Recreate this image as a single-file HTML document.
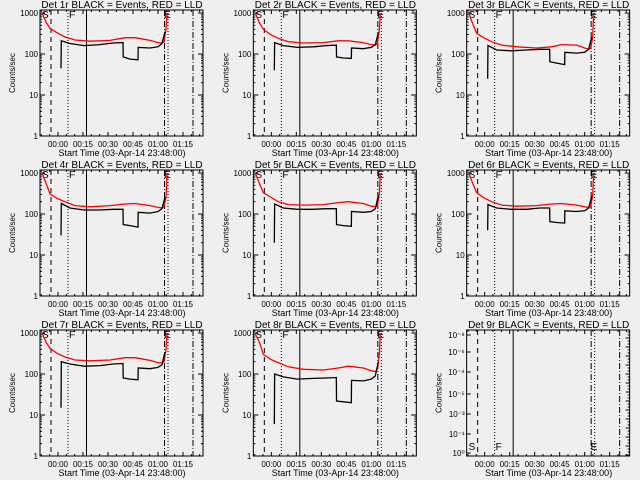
<!DOCTYPE html>
<html><head><meta charset="utf-8"><style>
html,body{margin:0;padding:0;background:#efefef;}
svg{display:block;font-family:"Liberation Sans",sans-serif;}
</style></head><body>
<svg id="chart" width="640" height="480" viewBox="0 0 640 480" xmlns="http://www.w3.org/2000/svg">
<rect width="640" height="480" fill="#efefef"/>
</svg>
<script>
// time in minutes relative to 00:00 (04-Apr-14)
const redTimes = [-9.6,-7.2,-4.8,-0.6,4.2,10.2,19.2,31.2,40.2,46.2,55.2,60,62.4,63.6,64.8,65.4];
const blackTimes = [1.8,2.0,7.2,15.6,25.2,33,39,39.1,43.2,48,48.1,55.2,60,62.4,64.2];
const detNames = ["1r","2r","3r","4r","5r","6r","7r","8r","9r"];
const red1 = [1000,600,420,330,260,220,205,215,250,250,215,190,185,200,400,1000];
const black1 = [45,210,180,160,170,185,190,85,75,72,145,140,150,180,350];
const red2 = [1000,580,400,300,240,200,185,190,210,210,190,170,165,180,380,1000];
const black2 = [40,190,160,145,150,160,165,85,80,78,140,135,145,170,330];
const red3 = [1000,550,320,250,200,165,150,140,150,170,165,140,130,140,250,1000];
const black3 = [25,160,125,120,125,130,130,65,60,55,110,105,110,130,260];
const red4 = [1000,560,310,240,200,160,150,160,175,180,160,145,140,150,260,1000];
const black4 = [30,180,140,125,125,130,130,55,52,48,110,105,115,135,260];
const red5 = [1000,560,330,260,200,170,165,170,190,200,180,155,150,160,300,1000];
const black5 = [20,175,140,130,130,135,135,55,52,50,115,110,115,135,280];
const red6 = [1000,560,330,250,200,165,155,160,175,180,165,150,145,155,280,1000];
const black6 = [40,170,140,130,130,140,140,65,62,60,120,115,120,140,270];
const red7 = [1000,600,420,320,260,220,210,220,250,250,215,190,185,200,400,1000];
const black7 = [15,200,175,155,160,175,180,80,75,72,140,135,145,170,340];
const red8 = [950,600,300,230,190,150,130,125,140,155,140,120,115,130,300,1000];
const black8 = [6,100,85,75,78,80,82,22,21,20,70,68,75,90,200];
const redSeries = [red1,red2,red3,red4,red5,red6,red7,red8,null];
const blackSeries = [black1,black2,black3,black4,black5,black6,black7,black8,null];
const xTickLabels = ["00:00","00:15","00:30","00:45","01:00","01:15"];
const xTickTimes = [0,15,30,45,60,75];
const yTickLabels = ["1","10","100","1000"];
const yTickValues = [1,10,100,1000];
const y9Labels = ["10⁰","10⁻¹","10⁻³","10⁻⁵","10⁻⁴","10⁻⁶","10⁻⁸"];
const y9Offsets = [133,114,94,74,52,32,15];
const markerTimes = [-4.2, 6, 17.1, 63.9, 66, 81];

const NS = "http://www.w3.org/2000/svg";
const svg = document.getElementById("chart");
const PL=40, PR=203, PT=10, PB=136;
const TMIN=(PL-58)*15/25, TMAX=(PR-58)*15/25;
function mk(tag, attrs, parent){const e=document.createElementNS(NS,tag);for(const k in attrs)e.setAttribute(k,attrs[k]);(parent||svg).appendChild(e);return e;}
function xs(t){return 58 + t*25/15;}
function ys(v){return PB - Math.log10(v)*(PB-PT-3)/3;}

for(let p=0;p<9;p++){
  const col=p%3,row=Math.floor(p/3);
  const g=mk("g",{transform:`translate(${(col*213.33).toFixed(2)},${row*160})`});
  
  
  const title=mk("text",{x:122,y:8,"font-size":"10","text-anchor":"middle",fill:"#000"},g);
  title.textContent=`Det ${detNames[p]} BLACK = Events, RED = LLD`;
  
  
  const box=mk("rect",{x:PL,y:PT,width:PR-PL,height:PB-PT,fill:"none",stroke:"#000","stroke-width":1},g);
  
  
  for(let t=Math.ceil(TMIN/5)*5;t<=TMAX;t+=5){
    const major=(t%15===0);const L=major?4:2;const x=xs(t);
    mk("line",{x1:x,x2:x,y1:PB,y2:PB-L,stroke:"#000"},g);
    mk("line",{x1:x,x2:x,y1:PT,y2:PT+L,stroke:"#000"},g);
  }
  xTickLabels.forEach((lab,i)=>{
    const tx=mk("text",{x:xs(xTickTimes[i]),y:147,"font-size":"8","text-anchor":"middle"},g);
    tx.textContent=lab;
    
    
  });
  const xt=mk("text",{x:122,y:156,"font-size":"9","text-anchor":"middle"},g);
  xt.textContent="Start Time (03-Apr-14 23:48:00)";
  
  
  const yt=mk("text",{x:0,y:0,"font-size":"8","text-anchor":"middle",transform:"translate(15,73) rotate(-90)"},g);
  yt.textContent="Counts/sec";
  
  
  if(p<8){
    for(let d=0;d<3;d++)for(let m=1;m<=10;m++){
      const y=ys(Math.pow(10,d)*m);const L=m===1||m===10?5:2;
      mk("line",{x1:PL,x2:PL+L,y1:y,y2:y,stroke:"#000"},g);
      mk("line",{x1:PR,x2:PR-L,y1:y,y2:y,stroke:"#000"},g);
    }
    yTickLabels.forEach((lab,i)=>{
      const tx=mk("text",{x:38,y:ys(yTickValues[i])+3,"font-size":"8","text-anchor":"end"},g);
      tx.textContent=lab;
      
      
    });
  } else {
    for(let y=PT+2;y<PB;y+=3){mk("line",{x1:PR,x2:PR-(y%9<3?4:2),y1:y,y2:y,stroke:"#000"},g);}
    y9Labels.forEach((lab,i)=>{
      mk("line",{x1:PL,x2:PL+4,y1:y9Offsets[i],y2:y9Offsets[i],stroke:"#000"},g);
      const tx=mk("text",{x:38,y:y9Offsets[i]+3,"font-size":"8","text-anchor":"end"},g);
      tx.textContent=lab;
      
      
    });
  }
  const dashes=["5,4","1,2",null,"6,2,1,2","1,2","6,2,1,2"];
  markerTimes.forEach((t,i)=>{
    const a={x1:xs(t),x2:xs(t),y1:PT,y2:PB,stroke:"#000","stroke-width":1};
    if(dashes[i])a["stroke-dasharray"]=dashes[i];
    const l=mk("line",a,g);
    
    
  });
  const ly=p<8?18:130;
  [["S",42],["F",69],["E",164]].forEach(([s,x])=>{
    const tx=mk("text",{x:x,y:ly,"font-size":"10"},g);
    tx.textContent=s;
    
    
  });
  function line(times,vals){
    let d="";
    for(let i=0;i<times.length;i++){
      const x=xs(times[i]).toFixed(1),y=ys(Math.min(vals[i],1050)).toFixed(1);
      d+=(i===0?"M":"L")+x+","+y;
    }
    return d;
  }
  if(redSeries[p]){
    const r=mk("path",{d:line(redTimes,redSeries[p]),fill:"none",stroke:"#f00","stroke-width":1.3},g);
    
    
    const b=mk("path",{d:line(blackTimes,blackSeries[p]),fill:"none",stroke:"#000","stroke-width":1.3},g);
    
    
  }
}
</script>
</body></html>
